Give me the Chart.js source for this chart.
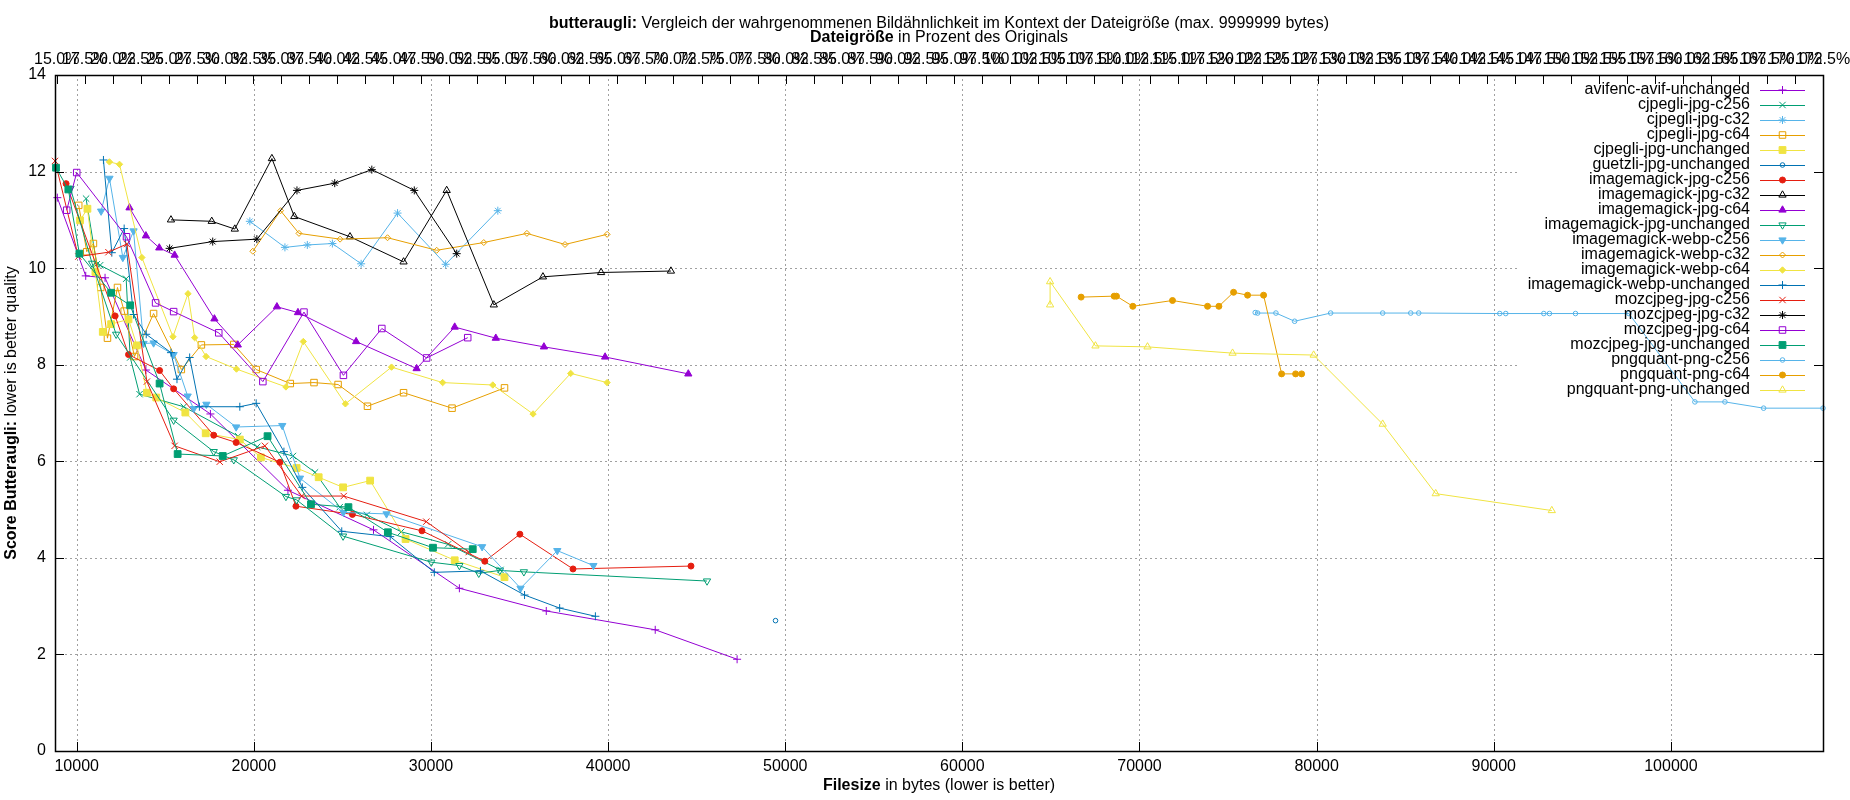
<!DOCTYPE html>
<html>
<head>
<meta charset="utf-8">
<title>butteraugli</title>
<script src="https://cdn.jsdelivr.net/npm/chart.js"></script>
<style>
  html, body { margin: 0; padding: 0; background: #fff; }
  canvas { display: block; }
</style>
</head>
<body>
<canvas id="canvas" width="1850" height="800"></canvas>
<script>
// [filesize in bytes, butteraugli score]
const avifencAvifUnchanged = [[8906, 11.46], [10509, 9.84], [11600, 9.80], [13906, 7.89], [17547, 6.98], [21925, 5.40], [26755, 4.58], [31604, 3.37], [36509, 2.90], [42660, 2.51], [47283, 1.90]];
const cjpegliJpgC256 = [[10528, 11.44], [11132, 10.08], [11321, 10.06], [12792, 9.78], [13019, 8.15], [13547, 7.39], [16038, 7.13], [19113, 6.52], [20189, 6.30], [22208, 6.11], [23453, 5.77], [24849, 5.05], [26377, 4.89], [28321, 4.54], [30962, 4.28], [33925, 3.75]];
const cjpegliJpgC32 = [[19774, 10.97], [21755, 10.43], [23019, 10.48], [24434, 10.51], [26057, 10.09], [28113, 11.14], [30830, 10.08], [33774, 11.19]];
const cjpegliJpgC64 = [[10113, 11.30], [10566, 10.34], [10943, 10.51], [11358, 9.60], [11736, 8.55], [12302, 9.60], [12679, 9.11], [13264, 8.17], [14340, 9.06], [15906, 7.90], [17038, 8.41], [18868, 8.42], [20132, 7.90], [22057, 7.61], [23396, 7.63], [24755, 7.59], [26415, 7.14], [28453, 7.42], [31189, 7.10], [34151, 7.52]];
const cjpegliJpgUnchanged = [[10189, 10.99], [10604, 11.23], [11057, 9.92], [11472, 8.68], [11943, 8.84], [12925, 8.94], [13396, 8.40], [13962, 7.42], [14491, 7.32], [16132, 7.01], [17283, 6.58], [19208, 6.45], [20396, 6.08], [22415, 5.86], [23660, 5.67], [25038, 5.46], [26566, 5.60], [28566, 4.39], [31340, 3.95], [34151, 3.60]];
const guetzliJpgUnchanged = [[49452, 2.70]];
const imagemagickJpgC256 = [[9400, 11.75], [12170, 9.01], [12925, 8.21], [14679, 7.88], [15472, 7.50], [17736, 6.54], [19000, 6.39], [21472, 5.98], [22377, 5.07], [25566, 4.90], [29491, 4.56], [33038, 3.93], [35019, 4.49], [38019, 3.77], [44679, 3.83]];
const imagemagickJpgC32 = [[15321, 11.00], [17623, 10.97], [18925, 10.81], [21019, 12.27], [22283, 11.07], [25430, 10.65], [28453, 10.13], [30887, 11.61], [33547, 9.24], [36321, 9.82], [39604, 9.91], [43547, 9.94]];
const imagemagickJpgC64 = [[12981, 11.25], [13906, 10.67], [14660, 10.42], [15528, 10.27], [17774, 8.95], [19094, 8.41], [21302, 9.20], [22491, 9.08], [25774, 8.48], [29189, 7.92], [31340, 8.78], [33660, 8.55], [36377, 8.37], [39830, 8.16], [44528, 7.81]];
const imagemagickJpgUnchanged = [[9650, 11.65], [10868, 10.10], [12226, 8.63], [15472, 6.85], [17736, 6.20], [18868, 6.03], [21811, 5.27], [22415, 5.20], [25038, 4.45], [30019, 3.91], [31604, 3.84], [32698, 3.68], [33887, 3.74], [35245, 3.71], [45585, 3.52]];
const imagemagickWebpC256 = [[11377, 11.18], [11849, 11.86], [12604, 10.22], [13208, 10.77], [13774, 8.44], [14340, 8.45], [15472, 8.21], [16264, 7.35], [16604, 7.09], [17321, 7.18], [19000, 6.71], [21604, 6.74], [22604, 5.65], [25057, 4.94], [27491, 4.91], [32887, 4.23], [35057, 3.37], [37132, 4.15], [39170, 3.84]];
const imagemagickWebpC32 = [[19943, 10.35], [21509, 11.19], [22547, 10.72], [24868, 10.60], [27547, 10.63], [30321, 10.37], [32981, 10.53], [35415, 10.72], [37566, 10.49], [39943, 10.70]];
const imagemagickWebpC64 = [[11849, 12.20], [12415, 12.15], [13679, 10.22], [15434, 8.58], [16283, 9.47], [16660, 8.56], [17302, 8.17], [19019, 7.91], [21811, 7.54], [22792, 8.48], [25170, 7.19], [27774, 7.95], [30660, 7.63], [33491, 7.58], [35763, 6.98], [37887, 7.82], [39943, 7.63]];
const imagemagickWebpUnchanged = [[11509, 12.24], [11981, 10.32], [12679, 10.82], [13208, 9.04], [13925, 8.63], [15321, 8.25], [15660, 7.70], [16377, 8.15], [16925, 7.13], [19208, 7.13], [20132, 7.20], [21698, 6.20], [22736, 5.46], [24962, 4.55], [27698, 4.44], [30189, 3.70], [32792, 3.73], [35283, 3.23], [37264, 2.96], [39283, 2.79]];
const mozcjpegJpgC256 = [[8774, 12.22], [10094, 10.24], [11792, 10.33], [12830, 10.50], [13962, 7.65], [15528, 6.32], [18075, 5.99], [20623, 6.32], [22700, 5.28], [25075, 5.28], [29736, 4.75], [32132, 4.12]];
const mozcjpegJpgC32 = [[15245, 10.41], [17679, 10.55], [20170, 10.60], [22434, 11.61], [24566, 11.76], [26660, 12.04], [29057, 11.61], [31453, 10.30]];
const mozcjpegJpgC64 = [[9434, 11.20], [10000, 11.98], [12811, 10.65], [14453, 9.28], [15472, 9.10], [18019, 8.66], [20509, 7.65], [22830, 9.09], [25057, 7.78], [27226, 8.75], [29755, 8.14], [32075, 8.56]];
const mozcjpegJpgUnchanged = [[8830, 12.08], [9528, 11.63], [10151, 10.30], [11943, 9.49], [13019, 9.23], [14679, 7.61], [15698, 6.15], [18245, 6.11], [20774, 6.52], [23226, 5.11], [25340, 5.05], [27566, 4.53], [30113, 4.21], [32358, 4.18]];
const pngquantPngC256 = [[76535, 9.08], [76667, 9.07], [77702, 9.07], [78757, 8.90], [80791, 9.07], [83729, 9.07], [85311, 9.07], [85763, 9.07], [90339, 9.06], [90678, 9.06], [92825, 9.06], [93145, 9.06], [94614, 9.06], [97627, 9.06], [101356, 7.23], [103051, 7.23], [105235, 7.10], [108588, 7.10]];
const pngquantPngC64 = [[66704, 9.40], [68569, 9.42], [68700, 9.42], [69623, 9.21], [71864, 9.33], [73842, 9.21], [74482, 9.21], [75311, 9.50], [76102, 9.44], [77006, 9.44], [78023, 7.81], [78814, 7.81], [79153, 7.81]];
const pngquantPngUnchanged = [[64953, 9.24], [64953, 9.72], [67514, 8.39], [70452, 8.37], [75254, 8.24], [79831, 8.20], [83729, 6.77], [86723, 5.33], [93277, 4.98]];

const xTicks = [10000, 20000, 30000, 40000, 50000, 60000, 70000, 80000, 90000, 100000];
const yTicks = [0, 2, 4, 6, 8, 10, 12, 14];
const pctTicks = [15.0, 17.5, 20.0, 22.5, 25.0, 27.5, 30.0, 32.5, 35.0, 37.5, 40.0, 42.5, 45.0, 47.5, 50.0, 52.5,
  55.0, 57.5, 60.0, 62.5, 65.0, 67.5, 70.0, 72.5, 75.0, 77.5, 80.0, 82.5, 85.0, 87.5, 90.0, 92.5,
  95.0, 97.5, 100.0, 102.5, 105.0, 107.5, 110.0, 112.5, 115.0, 117.5, 120.0, 122.5, 125.0, 127.5, 130.0, 132.5,
  135.0, 137.5, 140.0, 142.5, 145.0, 147.5, 150.0, 152.5, 155.0, 157.5, 160.0, 162.5, 165.0, 167.5, 170.0, 172.5];

const FONT = "'Liberation Sans', Arial, sans-serif";
const purple = '#9400d3', green = '#009e73', skyblue = '#56b4e9', orange = '#e69f00',
      yellow = '#f0e442', blue = '#0072b2', red = '#e51e10', black = '#000000';

// label, data, colour, point style, filled, radius, rotation
const series = [
  ['avifenc-avif-unchanged', avifencAvifUnchanged, purple, 'cross', true, 4, 0],
  ['cjpegli-jpg-c256', cjpegliJpgC256, green, 'crossRot', true, 4.5, 0],
  ['cjpegli-jpg-c32', cjpegliJpgC32, skyblue, 'star', true, 4, 0],
  ['cjpegli-jpg-c64', cjpegliJpgC64, orange, 'rect', false, 4.6, 0],
  ['cjpegli-jpg-unchanged', cjpegliJpgUnchanged, yellow, 'rect', true, 4.8, 0],
  ['guetzli-jpg-unchanged', guetzliJpgUnchanged, blue, 'circle', false, 2.3, 0],
  ['imagemagick-jpg-c256', imagemagickJpgC256, red, 'circle', true, 3, 0],
  ['imagemagick-jpg-c32', imagemagickJpgC32, black, 'triangle', false, 4.2, 0],
  ['imagemagick-jpg-c64', imagemagickJpgC64, purple, 'triangle', true, 4.2, 0],
  ['imagemagick-jpg-unchanged', imagemagickJpgUnchanged, green, 'triangle', false, 4.2, 180],
  ['imagemagick-webp-c256', imagemagickWebpC256, skyblue, 'triangle', true, 4.2, 180],
  ['imagemagick-webp-c32', imagemagickWebpC32, orange, 'rectRot', false, 3, 0],
  ['imagemagick-webp-c64', imagemagickWebpC64, yellow, 'rectRot', true, 3.2, 0],
  ['imagemagick-webp-unchanged', imagemagickWebpUnchanged, blue, 'cross', true, 4, 0],
  ['mozcjpeg-jpg-c256', mozcjpegJpgC256, red, 'crossRot', true, 4.5, 0],
  ['mozcjpeg-jpg-c32', mozcjpegJpgC32, black, 'star', true, 4, 0],
  ['mozcjpeg-jpg-c64', mozcjpegJpgC64, purple, 'rect', false, 4.6, 0],
  ['mozcjpeg-jpg-unchanged', mozcjpegJpgUnchanged, green, 'rect', true, 4.8, 0],
  ['pngquant-png-c256', pngquantPngC256, skyblue, 'circle', false, 2.3, 0],
  ['pngquant-png-c64', pngquantPngC64, orange, 'circle', true, 3, 0],
  ['pngquant-png-unchanged', pngquantPngUnchanged, yellow, 'triangle', false, 4.2, 0]
];

const allX = series.flatMap(s => s[1].map(p => p[0]));
const xMin = Math.min(...allX);
const xMax = Math.max(...allX);

const datasets = series.map((s, i) => ({
  label: s[0],
  data: s[1].map(p => ({x: p[0], y: p[1]})),
  borderColor: s[2],
  backgroundColor: s[4] ? s[2] : 'rgba(0,0,0,0)',
  borderWidth: 1,
  pointStyle: s[3],
  pointRadius: s[5],
  pointRotation: s[6],
  pointBorderWidth: 1,
  pointBorderColor: s[2],
  pointBackgroundColor: s[4] ? s[2] : 'rgba(0,0,0,0)',
  tension: 0,
  fill: false,
  clip: false,
  order: -i
}));

function keyBox(a) {
  return {left: a.right - 306, bottom: a.top + 324};
}

function mixedText(ctx, parts, x, y) {
  let total = 0;
  const widths = parts.map(p => {
    ctx.font = (p[1] ? 'bold ' : '') + '16px ' + FONT;
    const w = ctx.measureText(p[0]).width;
    total += w;
    return w;
  });
  let cx = x - total / 2;
  ctx.textAlign = 'left';
  ctx.textBaseline = 'middle';
  parts.forEach((p, i) => {
    ctx.font = (p[1] ? 'bold ' : '') + '16px ' + FONT;
    ctx.fillText(p[0], cx, y);
    cx += widths[i];
  });
}

function marker(ctx, opts, x, y) {
  if (Chart.helpers && Chart.helpers.drawPoint) {
    Chart.helpers.drawPoint(ctx, opts, x, y);
  } else {
    ctx.beginPath();
    ctx.arc(x, y, opts.radius, 0, Math.PI * 2);
    ctx.fill();
    ctx.stroke();
  }
}

const gnuplotFrame = {
  id: 'gnuplotFrame',
  beforeDatasetsDraw(chart) {
    const {ctx, chartArea: a, scales} = chart;
    const key = keyBox(a);
    ctx.save();
    ctx.strokeStyle = '#a0a0a0';
    ctx.lineWidth = 1;
    ctx.setLineDash([2, 3]);
    ctx.beginPath();
    xTicks.forEach(v => {
      const px = Math.round(scales.x.getPixelForValue(v)) + 0.5;
      const top = px > key.left ? key.bottom : a.top;
      ctx.moveTo(px, a.bottom);
      ctx.lineTo(px, top);
    });
    yTicks.slice(1, -1).forEach(v => {
      const py = Math.round(scales.y.getPixelForValue(v)) + 0.5;
      const right = py < key.bottom ? key.left : a.right;
      ctx.moveTo(a.left, py);
      ctx.lineTo(right, py);
    });
    ctx.stroke();
    ctx.restore();
  },
  afterDatasetsDraw(chart) {
    const {ctx, chartArea: a, scales} = chart;
    const t = 9;
    ctx.save();
    ctx.strokeStyle = '#000';
    ctx.lineWidth = 1;
    ctx.beginPath();
    xTicks.forEach(v => {
      const px = Math.round(scales.x.getPixelForValue(v)) + 0.5;
      ctx.moveTo(px, a.bottom);
      ctx.lineTo(px, a.bottom - t);
    });
    pctTicks.forEach(v => {
      const px = Math.round(scales.x2.getPixelForValue(v)) + 0.5;
      ctx.moveTo(px, a.top);
      ctx.lineTo(px, a.top + t);
    });
    yTicks.forEach(v => {
      const py = Math.round(scales.y.getPixelForValue(v)) + 0.5;
      ctx.moveTo(a.left, py);
      ctx.lineTo(a.left + t, py);
      ctx.moveTo(a.right, py);
      ctx.lineTo(a.right - t, py);
    });
    ctx.stroke();
    ctx.lineWidth = 1.5;
    ctx.strokeRect(Math.round(a.left) + 0.5, Math.round(a.top) + 0.5,
      Math.round(a.right - a.left), Math.round(a.bottom - a.top));
    ctx.restore();
  },
  afterDraw(chart) {
    const {ctx, chartArea: a} = chart;
    const mid = (a.left + a.right) / 2;
    ctx.save();
    ctx.fillStyle = '#000';
    mixedText(ctx, [['butteraugli:', true], [' Vergleich der wahrgenommenen Bildähnlichkeit im Kontext der Dateigröße (max. 9999999 bytes)', false]], mid, 23.5);
    mixedText(ctx, [['Dateigröße', true], [' in Prozent des Originals', false]], mid, 38);
    mixedText(ctx, [['Filesize', true], [' in bytes (lower is better)', false]], mid, a.bottom + 35);
    ctx.save();
    ctx.translate(12, (a.top + a.bottom) / 2);
    ctx.rotate(-Math.PI / 2);
    mixedText(ctx, [['Score Butteraugli:', true], [' lower is better quality', false]], 0, 0);
    ctx.restore();

    // key, top right inside the plot
    series.forEach((s, i) => {
      const y = a.top + 15 + 15 * i;
      ctx.font = '16px ' + FONT;
      ctx.fillStyle = '#000';
      ctx.textAlign = 'right';
      ctx.textBaseline = 'middle';
      ctx.fillText(s[0], a.right - 73, y);
      ctx.strokeStyle = s[2];
      ctx.lineWidth = 1;
      ctx.beginPath();
      ctx.moveTo(a.right - 63, y + 0.5);
      ctx.lineTo(a.right - 18, y + 0.5);
      ctx.stroke();
      ctx.fillStyle = s[4] ? s[2] : 'rgba(0,0,0,0)';
      marker(ctx, {pointStyle: s[3], radius: s[5], rotation: s[6], borderWidth: 1}, a.right - 40.5, y);
    });
    ctx.restore();
  }
};

Chart.defaults.font.family = FONT;
Chart.defaults.font.size = 16;
Chart.defaults.color = '#000';

function noOverhang(scale, h) {
  scale.height = h;
  scale.paddingLeft = 0;
  scale.paddingRight = 0;
}

new Chart(document.getElementById('canvas'), {
  type: 'line',
  data: {datasets: datasets},
  options: {
    responsive: false,
    devicePixelRatio: 1,
    animation: false,
    events: [],
    layout: {padding: {left: 0, right: 27, top: 0, bottom: 0}},
    plugins: {legend: {display: false}, title: {display: false}, tooltip: {enabled: false}},
    scales: {
      x: {
        type: 'linear',
        position: 'bottom',
        min: xMin,
        max: xMax,
        grid: {display: false, drawTicks: false},
        border: {display: false},
        afterBuildTicks: scale => { scale.ticks = xTicks.map(v => ({value: v})); },
        afterFit: scale => noOverhang(scale, 49),
        ticks: {padding: 6, maxRotation: 0, minRotation: 0, autoSkip: false, callback: v => String(v)}
      },
      x2: {
        type: 'linear',
        position: 'top',
        min: 14.85,
        max: 172.5,
        grid: {display: false, drawTicks: false},
        border: {display: false},
        afterBuildTicks: scale => { scale.ticks = pctTicks.map(v => ({value: v})); },
        afterFit: scale => noOverhang(scale, 75),
        ticks: {padding: 6, maxRotation: 0, minRotation: 0, autoSkip: false, callback: v => v.toFixed(1) + '%'}
      },
      y: {
        type: 'linear',
        min: 0,
        max: 14,
        grid: {display: false, drawTicks: false},
        border: {display: false},
        afterBuildTicks: scale => { scale.ticks = yTicks.map(v => ({value: v})); },
        afterFit: scale => { scale.width = 55; },
        ticks: {padding: 9, callback: v => String(v)}
      }
    }
  },
  plugins: [gnuplotFrame]
});
</script>
</body>
</html>
